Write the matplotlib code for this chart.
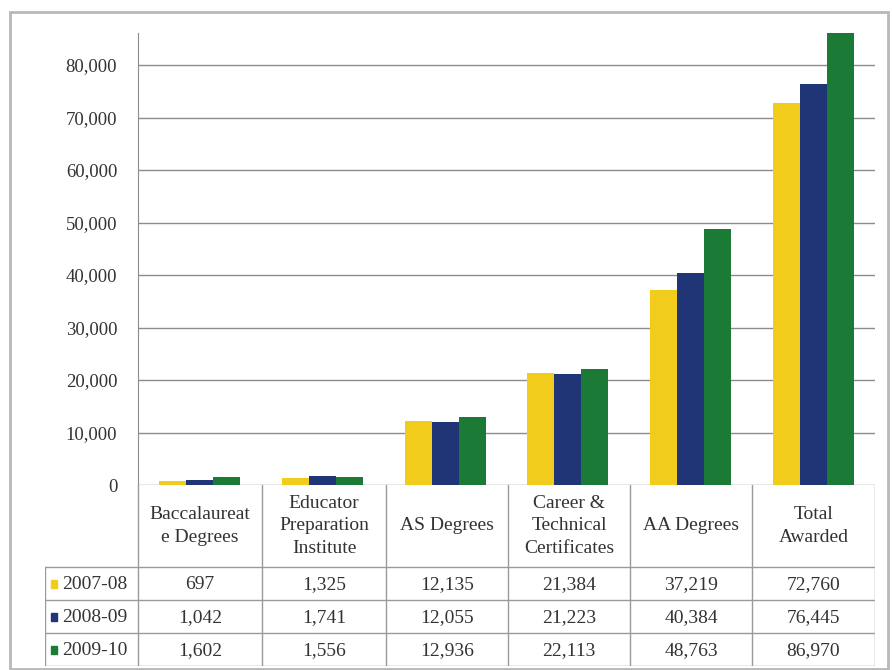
import matplotlib.pyplot as plt
from matplotlib.patches import Rectangle
from matplotlib.lines import Line2D

categories = ['Baccalaureat\ne Degrees', 'Educator\nPreparation\nInstitute', 'AS Degrees',
              'Career &\nTechnical\nCertificates', 'AA Degrees', 'Total\nAwarded']
years = ['2007-08', '2008-09', '2009-10']
v0708 = [697, 1325, 12135, 21384, 37219, 72760]
v0809 = [1042, 1741, 12055, 21223, 40384, 76445]
v0910 = [1602, 1556, 12936, 22113, 48763, 86970]
series = [v0708, v0809, v0910]
colors = ['#F2CC1C', '#1F3576', '#1B7A36']

plt.rcParams['font.family'] = ['Liberation Serif', 'DejaVu Serif']

W, H = 892, 670
fig = plt.figure(figsize=(W / 100, H / 100), dpi=100)

def px(x0, y0, x1, y1):
    return [x0 / W, 1 - y1 / H, (x1 - x0) / W, (y1 - y0) / H]

# outer frame
fig.patches.append(Rectangle((10 / W, 1 - 669 / H), 878 / W, 657 / H, transform=fig.transFigure,
                             fill=False, edgecolor='#b8b8b8', lw=2))

ax = fig.add_axes(px(138, 33, 875, 485))
n = len(categories)
bw = 0.22
for i, (vals, c) in enumerate(zip(series, colors)):
    ax.bar([k + (i - 1) * bw for k in range(n)], vals, bw, color=c, zorder=3)

ax.set_xlim(-0.5, n - 0.5)
ax.set_ylim(0, 86100)
ax.set_yticks(range(0, 80001, 10000))
ax.set_yticklabels(['{:,}'.format(v) for v in range(0, 80001, 10000)], fontsize=13.5, color='#333333')
ax.set_xticks([])
ax.yaxis.grid(True, color='#8c8c8c', lw=1)
ax.set_axisbelow(True)
for s in ['top', 'right', 'bottom']:
    ax.spines[s].set_visible(False)
ax.spines['left'].set_color('#8c8c8c')
ax.tick_params(axis='y', length=0, pad=15)

# data table
tx = fig.add_axes(px(45, 485, 875, 666))
tx.set_xlim(45, 875)
tx.set_ylim(666, 485)
tx.axis('off')
cols = [138, 262, 386, 508, 630, 752, 875]
rows = [485, 567, 600, 633, 666]
lc = '#9a9a9a'
for x in cols:
    tx.add_line(Line2D([x, x], [485, 666], color=lc, lw=1))
tx.add_line(Line2D([45, 45], [567, 666], color=lc, lw=1))
for y in rows[1:]:
    tx.add_line(Line2D([45, 875], [y, y], color=lc, lw=1))

for k, cat in enumerate(categories):
    cx = (cols[k] + cols[k + 1]) / 2
    tx.text(cx, 526, cat, ha='center', va='center', fontsize=14, color='#333333', linespacing=1.45)
    for r, vals in enumerate(series):
        cy = (rows[r + 1] + rows[r + 2]) / 2
        tx.text(cx, cy + 1, '{:,}'.format(vals[k]), ha='center', va='center', fontsize=14, color='#333333')

for r, (yr, c) in enumerate(zip(years, colors)):
    cy = (rows[r + 1] + rows[r + 2]) / 2
    tx.add_patch(Rectangle((51, cy - 4), 6, 8, color=c))
    tx.text(62, cy + 1, yr, ha='left', va='center', fontsize=14, color='#333333')

fig.savefig('out.png', dpi=100)
